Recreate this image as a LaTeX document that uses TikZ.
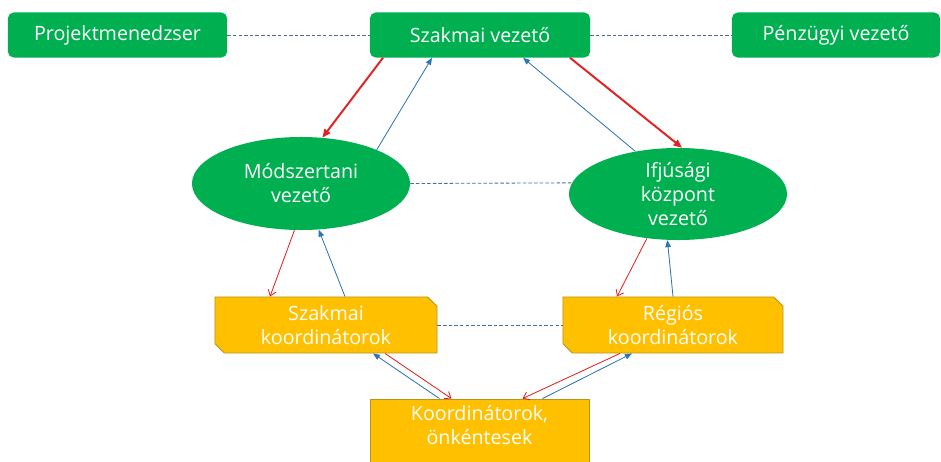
\documentclass[tikz,border=0pt]{standalone}
\usepackage{fontspec}
\setmainfont{Open Sans}
\usetikzlibrary{shapes.geometric,shapes.misc,arrows.meta,calc}
\definecolor{zold}{HTML}{00B050}
\definecolor{sarga}{HTML}{FFC000}
\definecolor{sargakeret}{HTML}{B8961E}
\definecolor{piros}{HTML}{E02424}
\definecolor{kek}{HTML}{2E75B6}
\definecolor{szurkekek}{HTML}{41719C}

\begin{document}
\begin{tikzpicture}[x=0.025cm,y=-0.025cm,
 font=\fontsize{14}{17}\selectfont,
 vezeto/.style={rectangle,rounded corners=4pt,fill=zold,text=white,minimum width=#1,minimum height=1.125cm,inner sep=0pt},
 kor/.style={ellipse,fill=zold,text=white,align=center,minimum width=5.45cm,minimum height=#1,inner sep=0pt},
 koord/.style={chamfered rectangle,chamfered rectangle corners={north east,south west},chamfered rectangle xsep=3pt,
   fill=sarga,draw=sargakeret,line width=0.6pt,text=white,align=center,minimum width=#1,minimum height=1.4cm,inner sep=0pt},
 szaggatott/.style={draw=szurkekek,line width=0.6pt,dash pattern=on 2.5pt off 1.5pt},
 lefel/.style={draw=piros,line width=1.4pt,-{Triangle[length=6pt,width=5pt]}},
 le/.style={draw=piros,line width=0.6pt,-{Straight Barb[length=4pt,width=6pt]}},
 fel/.style={draw=kek,line width=0.6pt,-{Triangle[length=5pt,width=4pt]}}]
\useasboundingbox (0,0) rectangle (941,461);

% vezetok
\node[vezeto=5.475cm] (pm) at (117.5,35) {Projektmenedzser};
\node[vezeto=5.5cm] (sv) at (480,35) {Szakmai vezető};
\node[vezeto=5.2cm] (pv) at (836,35) {Pénzügyi vezető};

\node[kor=2.325cm] (ms) at (301,183.5) {Módszertani\\vezető};
\node[kor=2.3cm] (ifj) at (678,194) {Ifjúsági\\központ\\vezető};

% koordinatorok
\node[koord=5.55cm] (sk) at (326,325) {Szakmai\\koordinátorok};
\node[koord=5.5cm] (rk) at (673,325) {Régiós\\koordinátorok};
\node[rectangle,fill=sarga,draw=sargakeret,line width=0.6pt,text=white,align=center,text depth=10pt,
  minimum width=5.475cm,minimum height=1.65cm,inner sep=0pt] (ko) at (479.5,432) {Koordinátorok,\\önkéntesek};

% szaggatott vonalak
\draw[szaggatott] (pm.east) -- (sv.west);
\draw[szaggatott] (sv.east) -- (pv.west);
\draw[szaggatott] (ms.east) -- (ifj.174);
\draw[szaggatott] (sk.east) -- (rk.west);

% nyilak fent
\draw[lefel] ($(sv.south)+(-97,0)$) -- (ms.65);
\draw[fel] (ms.24) -- ($(sv.south)+(-48,0)$);
\draw[fel] (ifj.135) -- ($(sv.south)+(43,0)$);
\draw[lefel] ($(sv.south)+(90,0)$) -- (ifj.85);

% nyilak kozepen
\draw[le] (ms.262) -- ($(sk.north)+(-56,0)$);
\draw[fel] ($(sk.north)+(19,0)$) -- (ms.291);
\draw[le] (ifj.235) -- ($(rk.north)+(-56,0)$);
\draw[fel] (rk.north) -- (ifj.257);

% nyilak lent
\draw[fel] ($(ko.north)+(-40,0)$) -- ($(sk.south)+(47,0)$);
\draw[le] ($(sk.south)+(59,0)$) -- ($(ko.north)+(-28,0)$);
\draw[le] ($(rk.south)+(-53,0)$) -- ($(ko.north)+(43,0)$);
\draw[fel] ($(ko.north)+(63,0)$) -- ($(rk.south)+(-41,0)$);
\end{tikzpicture}
\end{document}
